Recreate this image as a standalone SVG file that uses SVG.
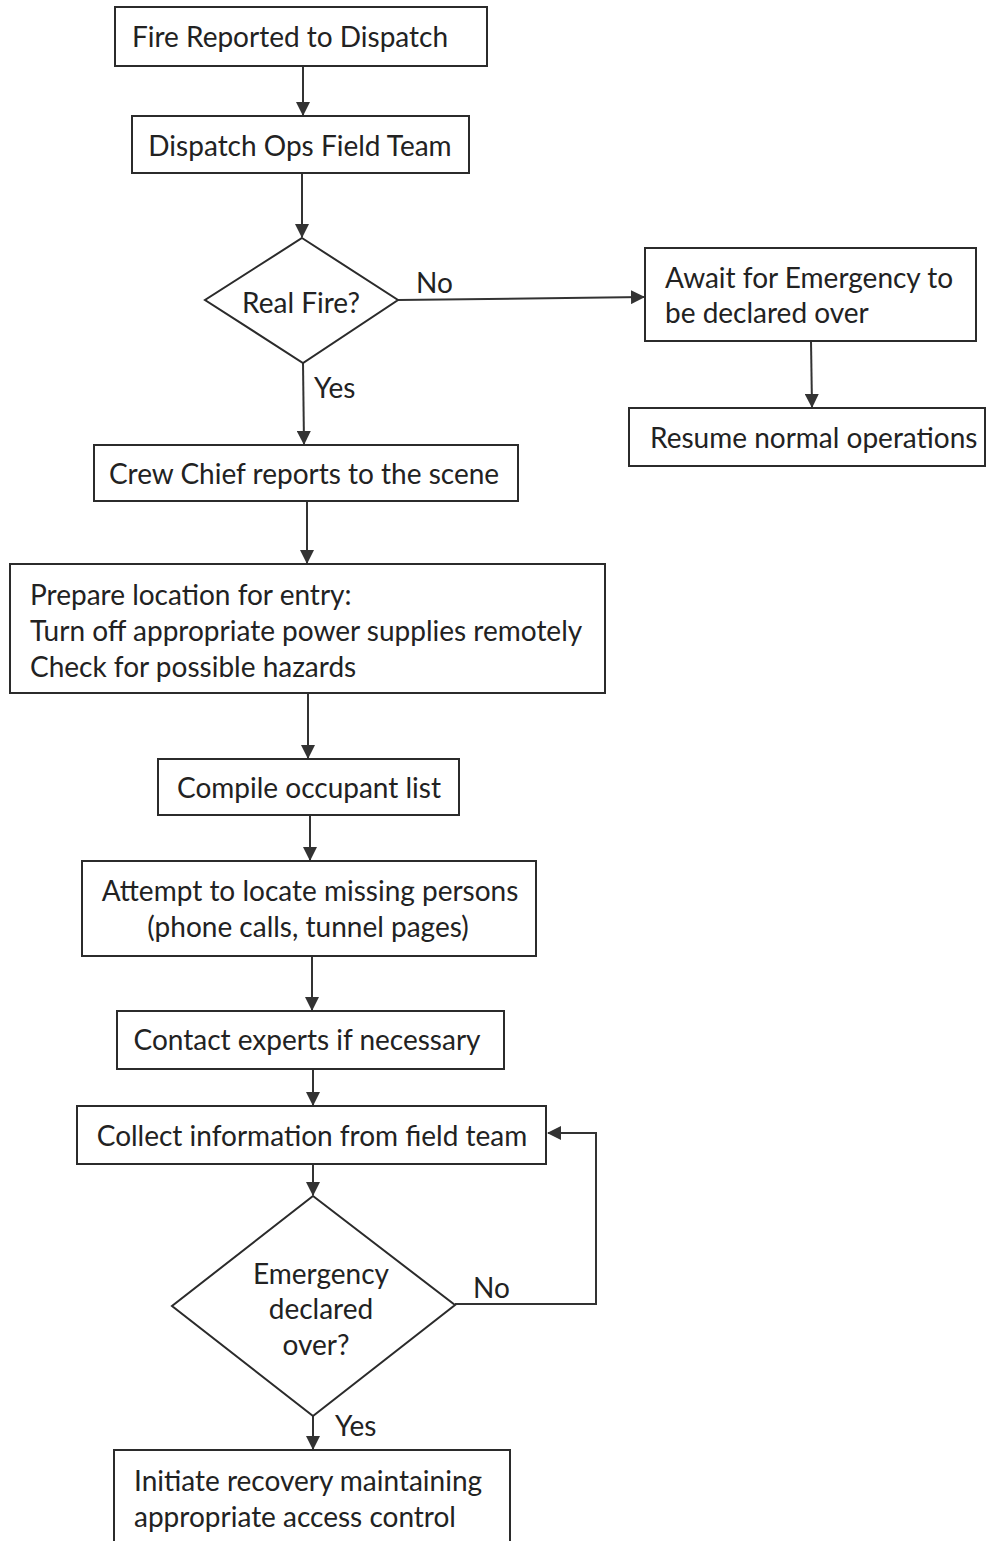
<svg xmlns="http://www.w3.org/2000/svg" width="986" height="1541" viewBox="0 0 986 1541">
<style>
.box{fill:#fff;stroke:#2b2b2b;stroke-width:2}
.t{font-family:Lato,"Liberation Sans",sans-serif;font-size:28px;fill:#222}
.c{text-anchor:middle}
.ln{fill:none;stroke:#333;stroke-width:2}
</style>
<defs>
<marker id="ah" markerWidth="14" markerHeight="14" refX="13" refY="7" orient="auto" markerUnits="userSpaceOnUse">
<path d="M0,0 L14,7 L0,14 Z" fill="#333"/>
</marker>
</defs>
<rect width="986" height="1541" fill="#fff"/>
<g id="connectors">
<line class="ln" x1="303" y1="66" x2="303" y2="115" marker-end="url(#ah)"/>
<line class="ln" x1="302" y1="173" x2="302" y2="237" marker-end="url(#ah)"/>
<line class="ln" x1="398" y1="300" x2="644" y2="297" marker-end="url(#ah)"/>
<line class="ln" x1="811" y1="341" x2="812" y2="407" marker-end="url(#ah)"/>
<line class="ln" x1="303" y1="363" x2="304" y2="444" marker-end="url(#ah)"/>
<line class="ln" x1="307" y1="501" x2="307" y2="563" marker-end="url(#ah)"/>
<line class="ln" x1="308" y1="693" x2="308" y2="758" marker-end="url(#ah)"/>
<line class="ln" x1="310" y1="815" x2="310" y2="860" marker-end="url(#ah)"/>
<line class="ln" x1="312" y1="956" x2="312" y2="1010" marker-end="url(#ah)"/>
<line class="ln" x1="313" y1="1069" x2="313" y2="1105" marker-end="url(#ah)"/>
<line class="ln" x1="313" y1="1164" x2="313" y2="1195" marker-end="url(#ah)"/>
<polyline class="ln" points="455,1304 596,1304 596,1133 548,1133" marker-end="url(#ah)"/>
<line class="ln" x1="313" y1="1416" x2="313" y2="1449" marker-end="url(#ah)"/>
<text class="t" x="416" y="293">No</text>
<text class="t" x="314" y="398">Yes</text>
<text class="t" x="473" y="1298">No</text>
<text class="t" x="335" y="1436">Yes</text>
</g>
<g id="n1"><rect class="box" x="115" y="7" width="372" height="59"/><text class="t c" x="290" y="47">Fire Reported to Dispatch</text></g>
<g id="n2"><rect class="box" x="132" y="116" width="337" height="57"/><text class="t c" x="300" y="156">Dispatch Ops Field Team</text></g>
<g id="d1"><polygon class="box" points="302,238 398,300 303,363 205,300"/><text class="t c" x="301" y="313">Real Fire?</text></g>
<g id="n3"><rect class="box" x="645" y="248" width="331" height="93"/><text class="t" x="665" y="288">Await for Emergency to</text><text class="t" x="665" y="323">be declared over</text></g>
<g id="n4"><rect class="box" x="629" y="408" width="356" height="58"/><text class="t" x="650" y="448">Resume normal operations</text></g>
<g id="n5"><rect class="box" x="94" y="445" width="424" height="56"/><text class="t c" x="304" y="484">Crew Chief reports to the scene</text></g>
<g id="n6"><rect class="box" x="10" y="564" width="595" height="129"/><text class="t" x="30" y="605">Prepare location for entry:</text><text class="t" x="30" y="641">Turn off appropriate power supplies remotely</text><text class="t" x="30" y="677">Check for possible hazards</text></g>
<g id="n7"><rect class="box" x="158" y="759" width="301" height="56"/><text class="t c" x="309" y="798">Compile occupant list</text></g>
<g id="n8"><rect class="box" x="82" y="861" width="454" height="95"/><text class="t c" x="310" y="901">Attempt to locate missing persons</text><text class="t c" x="308" y="937">(phone calls, tunnel pages)</text></g>
<g id="n9"><rect class="box" x="117" y="1011" width="387" height="58"/><text class="t c" x="307" y="1050">Contact experts if necessary</text></g>
<g id="n10"><rect class="box" x="77" y="1106" width="469" height="58"/><text class="t c" x="312" y="1146">Collect information from field team</text></g>
<g id="d2"><polygon class="box" points="313,1196 455,1305 313,1416 172,1306"/><text class="t c" x="321" y="1284">Emergency</text><text class="t c" x="321" y="1319">declared</text><text class="t c" x="316" y="1355">over?</text></g>
<g id="n11"><rect class="box" x="114" y="1450" width="396" height="100"/><text class="t" x="134" y="1491">Initiate recovery maintaining</text><text class="t" x="134" y="1527">appropriate access control</text></g>
</svg>
